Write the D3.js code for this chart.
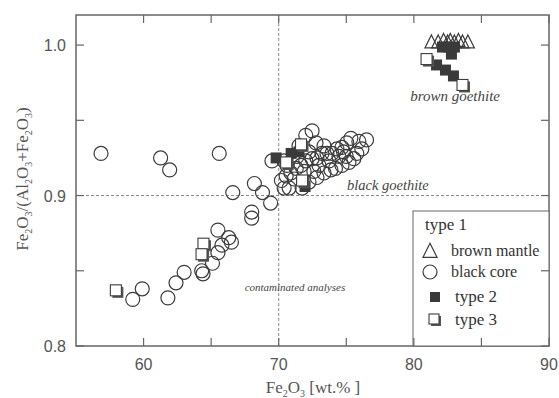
<!DOCTYPE html>
<html>
<head>
<meta charset="utf-8">
<script src="https://cdn.jsdelivr.net/npm/d3@7"></script>
<style>
  body { margin: 0; background: #fff; }
</style>
</head>
<body>
<div id="chart"></div>
<script>
// type 1 - brown mantle (triangles)
const mantleX = [81.3, 81.8, 82.2, 82.5, 82.7, 83.0, 83.3, 83.6, 84.0];
const mantleY = [1.002, 1.002, 1.003, 1.002, 1.003, 1.002, 1.003, 1.002, 1.002];

// type 1 - black core (circles)
const coreX = [56.85, 61.26, 61.93, 65.6, 66.6, 68.2, 68.8, 69.4, 68.0, 68.0,
  65.5, 66.3, 66.5, 65.8, 65.5, 65.1, 64.3, 64.4, 63.0, 62.4, 61.8, 59.9, 59.2, 69.5,
  72.47, 70.4, 75.34, 75.04, 74.68, 74.31, 73.94, 73.57, 73.2, 72.83, 72.47, 72.0,
  71.65, 71.3, 70.9, 70.55, 70.2, 70.4, 70.77, 71.73, 72.24, 72.83, 73.35, 73.86,
  74.2, 74.68, 75.2, 75.56, 75.78, 76.15, 75.93, 72.0, 72.76, 73.35, 71.5,
  72.24, 72.98, 73.72, 71.14, 71.88, 74.46, 72.6, 74.8, 71.36, 70.6, 76.5, 75.0];
const coreY = [0.928, 0.925, 0.917, 0.928, 0.902, 0.908, 0.902, 0.895, 0.889, 0.885,
  0.877, 0.872, 0.869, 0.867, 0.862, 0.855, 0.850, 0.848, 0.849, 0.842, 0.832, 0.838, 0.831, 0.923,
  0.943, 0.923, 0.938, 0.935, 0.932, 0.931, 0.928, 0.928, 0.928, 0.925, 0.9245, 0.923,
  0.920, 0.918, 0.915, 0.913, 0.910, 0.905, 0.905, 0.905, 0.909, 0.912, 0.915, 0.917,
  0.918, 0.920, 0.922, 0.9245, 0.928, 0.931, 0.936, 0.940, 0.935, 0.933, 0.933,
  0.929, 0.920, 0.923, 0.911, 0.916, 0.926, 0.916, 0.929, 0.926, 0.920, 0.937, 0.926];

// type 2 (filled squares)
const type2X = [81.68, 82.34, 82.93, 82.12, 82.56, 83.0, 82.78, 69.81, 70.92, 71.5, 71.95];
const type2Y = [0.9868, 0.9834, 0.9795, 0.9987, 0.9987, 0.9987, 0.994, 0.925, 0.928, 0.929, 0.906];

// type 3 (open squares)
const type3X = [80.94, 83.6, 71.65, 70.55, 71.73, 64.43, 64.29, 57.95];
const type3Y = [0.9907, 0.9735, 0.934, 0.922, 0.910, 0.868, 0.861, 0.837];

const xTicks = [60, 70, 80, 90];
const xMinor = [65, 75, 85];
const yTicks = [0.8, 0.9, 1.0];
const yMinor = [0.85, 0.95];

const width = 559, height = 398;
const margin = { left: 76, right: 10, top: 15, bottom: 52 };
const axisColor = "#666";
const markColor = "#3c3c3c";
const serif = "'Liberation Serif', 'DejaVu Serif', serif";
const sans = "'Liberation Sans', Arial, sans-serif";

const svg = d3.select("#chart").append("svg")
  .attr("width", width)
  .attr("height", height);

const x = d3.scaleLinear().domain([55, 90]).range([margin.left, width - margin.right]);
const y = d3.scaleLinear().domain([0.8, 1.02]).range([height - margin.bottom, margin.top]);

const x0 = x.range()[0], x1 = x.range()[1];
const y0 = y.range()[0], y1 = y.range()[1];

// dashed reference lines
svg.append("line")
  .attr("x1", x0).attr("x2", x1).attr("y1", y(0.9)).attr("y2", y(0.9))
  .attr("stroke", "#888").attr("stroke-width", 1).attr("stroke-dasharray", "3,2");
svg.append("line")
  .attr("x1", x(70)).attr("x2", x(70)).attr("y1", y0).attr("y2", y1)
  .attr("stroke", "#888").attr("stroke-width", 1).attr("stroke-dasharray", "3,2");

// annotations
function note(xv, yv, size, anchor, label) {
  svg.append("text")
    .attr("x", x(xv)).attr("y", y(yv))
    .attr("text-anchor", anchor)
    .style("font-family", serif)
    .style("font-style", "italic")
    .style("font-size", size + "px")
    .attr("fill", "#444")
    .text(label);
}
note(83.05, 0.963, 15, "middle", "brown goethite");
note(75.05, 0.9035, 14.5, "start", "black goethite");
note(71.2, 0.8366, 11, "middle", "contaminated analyses");

// marker helpers
const triPath = (cx, cy, s) => `M${cx},${cy - s * 0.55}L${cx + s / 2},${cy + s * 0.45}L${cx - s / 2},${cy + s * 0.45}Z`;

function openSquare(g, cx, cy, s) {
  g.append("rect")
    .attr("x", cx - s / 2 + 2).attr("y", cy - s / 2 + 2)
    .attr("width", s).attr("height", s)
    .attr("fill", "#555");
  g.append("rect")
    .attr("x", cx - s / 2).attr("y", cy - s / 2)
    .attr("width", s).attr("height", s)
    .attr("fill", "#fff").attr("stroke", markColor).attr("stroke-width", 1.1);
}

const marks = svg.append("g");

// black core circles
marks.selectAll("circle.core")
  .data(d3.range(coreX.length))
  .enter()
  .append("circle")
  .attr("class", "core")
  .attr("cx", i => x(coreX[i]))
  .attr("cy", i => y(coreY[i]))
  .attr("r", 7)
  .attr("fill", "none")
  .attr("stroke", markColor)
  .attr("stroke-width", 1.2);

// brown mantle triangles
marks.selectAll("path.mantle")
  .data(d3.range(mantleX.length))
  .enter()
  .append("path")
  .attr("class", "mantle")
  .attr("d", i => triPath(x(mantleX[i]), y(mantleY[i]), 13))
  .attr("fill", "none")
  .attr("stroke", markColor)
  .attr("stroke-width", 1.2);

// type 2 filled squares
marks.selectAll("rect.type2")
  .data(d3.range(type2X.length))
  .enter()
  .append("rect")
  .attr("class", "type2")
  .attr("x", i => x(type2X[i]) - 5.5)
  .attr("y", i => y(type2Y[i]) - 5.5)
  .attr("width", 11).attr("height", 11)
  .attr("fill", "#3a3a3a");

// type 3 open squares
type3X.forEach((v, i) => openSquare(marks, x(v), y(type3Y[i]), 11));

// frame
svg.append("rect")
  .attr("x", x0).attr("y", y1)
  .attr("width", x1 - x0).attr("height", y0 - y1)
  .attr("fill", "none").attr("stroke", axisColor).attr("stroke-width", 1.5);

// legend box
const lg = svg.append("g");
lg.append("rect")
  .attr("x", 413).attr("y", 211)
  .attr("width", x1 - 413).attr("height", y0 - 211)
  .attr("fill", "#fff").attr("stroke", axisColor).attr("stroke-width", 1);
function legText(tx, ty, size, label) {
  lg.append("text").attr("x", tx).attr("y", ty)
    .style("font-family", serif).style("font-size", size + "px")
    .attr("fill", "#333").text(label);
}
legText(425, 230, 17, "type 1");
lg.append("path").attr("d", triPath(430, 251, 14))
  .attr("fill", "none").attr("stroke", markColor).attr("stroke-width", 1.2);
legText(451, 256, 16, "brown mantle");
lg.append("circle").attr("cx", 430).attr("cy", 272).attr("r", 7)
  .attr("fill", "none").attr("stroke", markColor).attr("stroke-width", 1.2);
legText(451, 277, 16, "black core");
lg.append("rect").attr("x", 430).attr("y", 292).attr("width", 10).attr("height", 10).attr("fill", "#3a3a3a");
legText(455, 302, 17, "type 2");
openSquare(lg, 434, 319, 10);
legText(455, 325, 17, "type 3");

// ticks (inward on all four sides)
const tickLen = 8;
const ticks = svg.append("g").attr("stroke", axisColor).attr("stroke-width", 1.2);
xTicks.concat(xMinor).forEach(t => {
  ticks.append("line").attr("x1", x(t)).attr("x2", x(t)).attr("y1", y0).attr("y2", y0 - tickLen);
  ticks.append("line").attr("x1", x(t)).attr("x2", x(t)).attr("y1", y1).attr("y2", y1 + tickLen);
});
yTicks.concat(yMinor).forEach(t => {
  ticks.append("line").attr("x1", x0).attr("x2", x0 + tickLen).attr("y1", y(t)).attr("y2", y(t));
  ticks.append("line").attr("x1", x1).attr("x2", x1 - tickLen).attr("y1", y(t)).attr("y2", y(t));
});

// tick labels
svg.selectAll("text.xt")
  .data(xTicks)
  .enter()
  .append("text")
  .attr("class", "xt")
  .attr("x", d => x(d))
  .attr("y", y0 + 24)
  .attr("text-anchor", "middle")
  .style("font-family", sans)
  .style("font-size", "16px")
  .attr("fill", "#555")
  .text(d => d);

svg.selectAll("text.yt")
  .data(yTicks)
  .enter()
  .append("text")
  .attr("class", "yt")
  .attr("x", x0 - 10)
  .attr("y", d => y(d) + 6)
  .attr("text-anchor", "end")
  .style("font-family", sans)
  .style("font-size", "16px")
  .attr("fill", "#555")
  .text(d => d.toFixed(1));

// axis titles with subscripts
function subTitle(sel, parts) {
  let prevSub = 0;
  parts.forEach(([s, sub]) => {
    const ts = sel.append("tspan").text(s);
    if (sub) ts.style("font-size", "10px");
    if (sub !== prevSub) ts.attr("dy", sub ? 4 : -4);
    prevSub = sub;
  });
}

const xt = svg.append("text")
  .attr("x", 313).attr("y", 393)
  .attr("text-anchor", "middle")
  .style("font-family", serif)
  .style("font-size", "17px")
  .attr("fill", "#555");
subTitle(xt, [["Fe", 0], ["2", 1], ["O", 0], ["3", 1], [" [wt.% ]", 0]]);

const yt = svg.append("text")
  .attr("transform", "translate(28,179) rotate(-90)")
  .attr("text-anchor", "middle")
  .style("font-family", serif)
  .style("font-size", "17px")
  .attr("fill", "#555");
subTitle(yt, [["Fe", 0], ["2", 1], ["O", 0], ["3", 1], ["/(Al", 0], ["2", 1], ["O", 0], ["3", 1], ["+Fe", 0], ["2", 1], ["O", 0], ["3", 1], [")", 0]]);
</script>
</body>
</html>
